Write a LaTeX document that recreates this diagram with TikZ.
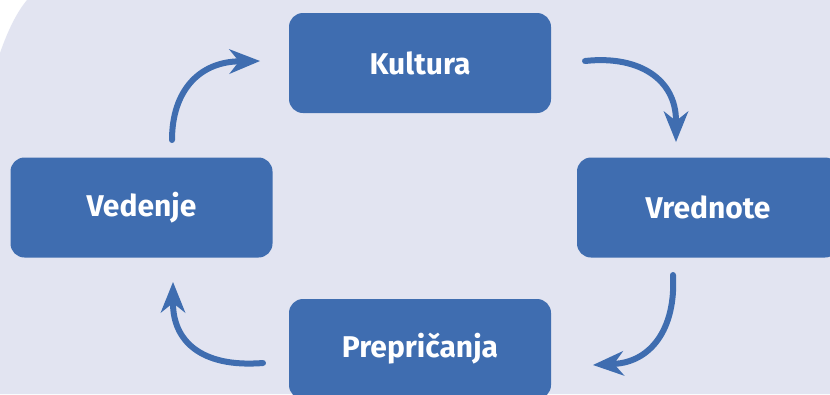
\documentclass[tikz,border=0pt]{standalone}
\usepackage{fontspec}
\setmainfont{Fira Sans}
\usetikzlibrary{arrows.meta}
\definecolor{boxblue}{HTML}{3F6DB0}
\definecolor{panel}{HTML}{E2E4F1}
\tikzset{
  stagebox/.style={fill=boxblue, rounded corners=14pt, minimum width=262pt,
    minimum height=100pt, inner sep=0pt, text=white,
    font=\fontsize{30}{34}\selectfont\bfseries},
  cyclearrow/.style={draw=boxblue, line width=6pt, line cap=round,
    -{Stealth[length=31pt, width=25pt, inset=10pt, line width=0pt]}}
}
\begin{document}
\begin{tikzpicture}[x=1pt, y=-1pt]
  \useasboundingbox (0,0) rectangle (830,394);
  \fill[white] (0,0) rectangle (830,394);
  % lavender panel with a rounded upper-left edge
  \fill[panel] (0,53) .. controls (8,30) and (17,12) .. (27,0) -- (830,0)
    -- (830,394) -- (0,394) -- cycle;
  \begin{scope}
    \clip (0,0) rectangle (830,394);
    \node[stagebox] (kultura) at (420,63) {Kultura};
    \node[stagebox] (vrednote) at (708,207.5) {Vrednote};
    \node[stagebox] (prepricanja) at (420,349) {Prepričanja};
    \node[stagebox] (vedenje) at (141.5,207.5) {Vedenje};
  \end{scope}
  % arrows running round the cycle
  \coordinate (a1s) at (172,140);
  \coordinate (a1e) at (260,61);
  \coordinate (a2s) at (585,61);
  \coordinate (a2e) at (676,142);
  \coordinate (a3s) at (673,275);
  \coordinate (a3e) at (593,365);
  \coordinate (a4s) at (263,363);
  \coordinate (a4e) at (173,282);
  \draw[cyclearrow] (a1s) .. controls (172,90) and (200,62) .. (a1e);
  \draw[cyclearrow] (a2s) .. controls (640,55) and (676,80) .. (a2e);
  \draw[cyclearrow] (a3s) .. controls (676,330) and (650,362) .. (a3e);
  \draw[cyclearrow] (a4s) .. controls (200,368) and (173,340) .. (a4e);
\end{tikzpicture}
\end{document}
